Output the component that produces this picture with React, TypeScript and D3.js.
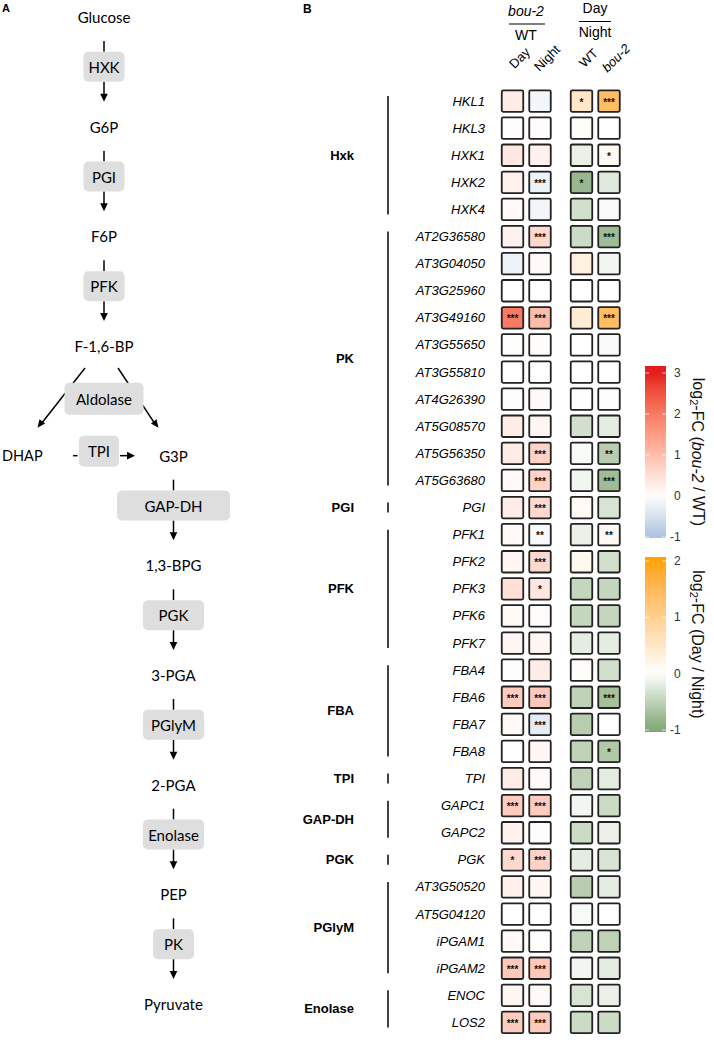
import * as d3 from "d3";

// ---- panel B data ----
const genes = [
  "HKL1", "HKL3", "HXK1", "HXK2", "HXK4",
  "AT2G36580", "AT3G04050", "AT3G25960", "AT3G49160", "AT3G55650",
  "AT3G55810", "AT4G26390", "AT5G08570", "AT5G56350", "AT5G63680",
  "PGI",
  "PFK1", "PFK2", "PFK3", "PFK6", "PFK7",
  "FBA4", "FBA6", "FBA7", "FBA8",
  "TPI",
  "GAPC1", "GAPC2",
  "PGK",
  "AT3G50520", "AT5G04120", "iPGAM1", "iPGAM2",
  "ENOC", "LOS2",
];
const families = ["Hxk", "PK", "PGI", "PFK", "FBA", "TPI", "GAP-DH", "PGK", "PGlyM", "Enolase"];
const familySizes = [5, 10, 1, 5, 4, 1, 2, 1, 4, 2];

// log2 FC bou-2 / WT
const fcDay = [0.3, 0.05, 0.35, 0.2, 0.1, 0.2, -0.2, 0, 2.0, 0.02, 0, 0.03, 0.3, 0.3, 0.1, 0.3, 0.1, 0.15, 0.5, 0.08, 0.15, 0.03, 0.8, 0.1, 0, 0.3, 0.8, 0.2, 0.6, 0.25, 0, 0.1, 0.85, 0.15, 0.8];
const fcNight = [-0.15, 0.05, 0.2, -0.22, -0.15, 0.6, 0.1, 0, 1.05, 0.02, 0, 0.08, 0.15, 0.7, 0.65, 0.6, -0.1, 0.6, 0.35, 0.05, 0.15, 0.3, 0.85, -0.3, 0.15, 0.1, 0.8, 0.03, 0.7, 0.15, 0, 0.02, 0.85, 0.08, 0.8];
// log2 FC Day / Night
const fcWT = [0.5, 0.05, -0.15, -0.8, -0.35, -0.4, 0.3, 0, 0.4, 0, 0, 0.03, -0.35, -0.05, -0.1, 0.1, -0.15, 0.15, -0.45, -0.45, -0.2, 0.05, -0.5, -0.55, -0.5, -0.5, -0.1, -0.4, -0.2, -0.55, -0.05, -0.5, -0.1, -0.3, -0.4];
const fcBou = [1.4, 0, 0.1, -0.25, -0.05, -0.75, -0.1, 0, 1.4, -0.05, 0, -0.03, -0.2, -0.55, -0.75, -0.3, 0.1, -0.35, -0.45, -0.45, -0.2, -0.35, -0.7, 0, -0.6, -0.2, -0.4, -0.15, -0.3, -0.2, 0, -0.5, -0.2, -0.15, -0.4];

const sigDay = ["", "", "", "", "", "", "", "", "***", "", "", "", "", "", "", "", "", "", "", "", "", "", "***", "", "", "", "***", "", "*", "", "", "", "***", "", "***"];
const sigNight = ["", "", "", "***", "", "***", "", "", "***", "", "", "", "", "***", "***", "***", "**", "***", "*", "", "", "", "***", "***", "", "", "***", "", "***", "", "", "", "***", "", "***"];
const sigWT = ["*", "", "", "*", "", "", "", "", "", "", "", "", "", "", "", "", "", "", "", "", "", "", "", "", "", "", "", "", "", "", "", "", "", "", ""];
const sigBou = ["***", "", "*", "", "", "***", "", "", "***", "", "", "", "", "**", "***", "", "**", "", "", "", "", "", "***", "", "*", "", "", "", "", "", "", "", "", "", ""];

const redTicks = [3, 2, 1, 0, -1];
const orangeTicks = [2, 1, 0, -1];

// ---- panel A data ----
const metabolites = ["Glucose", "G6P", "F6P", "F-1,6-BP", "G3P", "1,3-BPG", "3-PGA", "2-PGA", "PEP", "Pyruvate"];
const enzymes = ["HXK", "PGI", "PFK", "Aldolase", "GAP-DH", "PGK", "PGlyM", "Enolase", "PK"];
const enzymeWidths = [41, 41, 41, 79, 113, 61, 61, 61, 41];

const W = 714, H = 1040;
const FONT_B = "'Liberation Sans', Arial, sans-serif";
const FONT_A = "Lato, sans-serif";

export default function App() {
  // rows
  const y = d3.scaleBand().domain(genes).range([87.5, 87.5 + genes.length * 27.1]);
  const cy = (g: string) => (y(g) as number) + y.bandwidth() / 2;
  const xL = d3.scaleBand().domain(["Day", "Night"]).range([498.75, 553.75]);
  const xR = d3.scaleBand().domain(["WT", "bou-2"]).range([567.75, 622.75]);
  const cx = (s: d3.ScaleBand<string>, k: string) => (s(k) as number) + s.bandwidth() / 2;

  const red = d3.scaleLinear<string>().domain([-1, 0, 3]).range(["#abc2df", "#ffffff", "#e31a1c"]).interpolate(d3.interpolateLab);
  const orange = d3.scaleLinear<string>().domain([-1, 0, 2]).range(["#80a673", "#ffffff", "#ffa200"]).interpolate(d3.interpolateLab);

  const columns = [
    { key: "Day", scale: xL, vals: fcDay, sig: sigDay, color: red },
    { key: "Night", scale: xL, vals: fcNight, sig: sigNight, color: red },
    { key: "WT", scale: xR, vals: fcWT, sig: sigWT, color: orange },
    { key: "bou-2", scale: xR, vals: fcBou, sig: sigBou, color: orange },
  ];

  // family brackets
  let start = 0;
  const fam = families.map((f, i) => {
    const first = genes[start];
    const last = genes[start + familySizes[i] - 1];
    start += familySizes[i];
    return { name: f, y0: cy(first), y1: cy(last) };
  });

  const cell = 21.5;

  // legends
  const yRed = d3.scaleLinear().domain([-1, 3]).range([537, 373]);
  const yOr = d3.scaleLinear().domain([-1, 2]).range([730, 561]);
  const barX = 645, barW = 21;

  // pathway
  const py = d3.scaleLinear().domain([0, 9]).range([17, 1004]);
  const xTop = 104, xBot = 173.5;
  const colX = (i: number) => (i <= 3 ? xTop : xBot);

  const arrowHead = (x: number, yTip: number) =>
    `M${x - 3.8},${yTip - 8} L${x + 3.8},${yTip - 8} L${x},${yTip} Z`;

  const steps = enzymes.map((e, i) => {
    if (e === "Aldolase") return null;
    const y0 = py(i), y1 = py(i + 1);
    const x = i >= 4 ? xBot : xTop;
    const boxC = (y0 + y1) / 2 - 5;
    return { e, x, y0, y1, boxC, w: enzymeWidths[i] };
  });

  const aldoY = (py(3) + py(4)) / 2 - 2;

  return (
    <svg width={W} height={H} style={{ position: "absolute", left: 0, top: 0, background: "#fff" }}>
      {/* ------------ Panel A ------------ */}
      <text x={2} y={12} fontFamily={FONT_B} fontWeight="bold" fontSize={11}>A</text>
      {metabolites.map((m, i) => (
        <text key={m} x={colX(i)} y={py(i)} fontFamily={FONT_A} fontSize={15} textAnchor="middle" dominantBaseline="central">{m}</text>
      ))}
      <text x={2} y={py(4)} fontFamily={FONT_A} fontSize={14.5} textAnchor="start" dominantBaseline="central">DHAP</text>
      {steps.map((s) => s && (
        <g key={s.e}>
          <line x1={s.x} x2={s.x} y1={s.y0 + 24} y2={s.boxC - 15} stroke="#000" strokeWidth={1.5} />
          <line x1={s.x} x2={s.x} y1={s.boxC + 15} y2={s.y1 - 30} stroke="#000" strokeWidth={1.5} />
          <path d={arrowHead(s.x, s.y1 - 25)} fill="#000" />
          <rect x={s.x - s.w / 2} y={s.boxC - 15} width={s.w} height={30} rx={5} fill="#dedede" />
          <text x={s.x} y={s.boxC} fontFamily={FONT_A} fontSize={15} textAnchor="middle" dominantBaseline="central">{s.e}</text>
        </g>
      ))}
      {/* aldolase split */}
      <line x1={85} y1={py(3) + 22} x2={40.5} y2={py(4) - 31} stroke="#000" strokeWidth={1.5} />
      <path d="M0,0 L7,0 L3.5,8 Z" fill="#000" transform={`translate(37.5,${py(4) - 28}) rotate(37) translate(-3.5,-8)`} />
      <line x1={118} y1={py(3) + 22} x2={155.5} y2={py(4) - 31} stroke="#000" strokeWidth={1.5} />
      <path d="M0,0 L7,0 L3.5,8 Z" fill="#000" transform={`translate(158.5,${py(4) - 28}) rotate(-37) translate(-3.5,-8)`} />
      <rect x={xTop - 39.5} y={aldoY - 16} width={79} height={32} rx={5} fill="#dedede" />
      <text x={xTop} y={aldoY} fontFamily={FONT_A} fontSize={15} textAnchor="middle" dominantBaseline="central">Aldolase</text>
      {/* TPI */}
      <line x1={73} x2={77.5} y1={py(4)} y2={py(4)} stroke="#000" strokeWidth={1.5} />
      <line x1={120} x2={130} y1={py(4)} y2={py(4)} stroke="#000" strokeWidth={1.5} />
      <path d={`M${127},${py(4) - 3.8} L${135},${py(4)} L${127},${py(4) + 3.8} Z`} fill="#000" />
      <rect x={79} y={py(4) - 20} width={40} height={31} rx={5} fill="#dedede" />
      <text x={99} y={py(4) - 4.5} fontFamily={FONT_A} fontSize={15} textAnchor="middle" dominantBaseline="central">TPI</text>

      {/* ------------ Panel B ------------ */}
      <text x={303} y={13} fontFamily={FONT_B} fontWeight="bold" fontSize={12}>B</text>

      {/* headers */}
      <text x={526} y={16} fontFamily={FONT_B} fontSize={14} fontStyle="italic" textAnchor="middle">bou-2</text>
      <line x1={509} x2={545} y1={24} y2={24} stroke="#000" strokeWidth={1} />
      <text x={526} y={40} fontFamily={FONT_B} fontSize={14} textAnchor="middle">WT</text>
      <text x={595} y={13} fontFamily={FONT_B} fontSize={14} textAnchor="middle">Day</text>
      <line x1={579} x2={611} y1={21.5} y2={21.5} stroke="#000" strokeWidth={1} />
      <text x={595} y={37} fontFamily={FONT_B} fontSize={14} textAnchor="middle">Night</text>
      {columns.map((c) => (
        <text key={c.key} transform={`translate(${cx(c.scale, c.key) + 7},${58}) rotate(-45)`}
          fontFamily={FONT_B} fontSize={13} textAnchor="middle" dominantBaseline="central"
          fontStyle={c.key === "bou-2" ? "italic" : "normal"}>{c.key}</text>
      ))}

      {/* families */}
      {fam.map((f) => (
        <g key={f.name}>
          <line x1={388} x2={388} y1={f.y0 - 5} y2={f.y1 + 5} stroke="#000" strokeWidth={1.5} />
          <text x={354} y={(f.y0 + f.y1) / 2} fontFamily={FONT_B} fontSize={13} fontWeight="bold" textAnchor="end" dominantBaseline="central">{f.name}</text>
        </g>
      ))}

      {/* gene labels */}
      {genes.map((g) => (
        <text key={g} x={485} y={cy(g)} fontFamily={FONT_B} fontSize={13} fontStyle="italic" textAnchor="end" dominantBaseline="central">{g}</text>
      ))}

      {/* cells */}
      {columns.map((c) => (
        <g key={c.key}>
          {genes.map((g, i) => {
            const x = cx(c.scale, c.key);
            const yy = cy(g);
            return (
              <g key={g}>
                <rect x={x - cell / 2} y={yy - cell / 2} width={cell} height={cell} rx={1.5}
                  fill={c.color(c.vals[i])} stroke="#222" strokeWidth={1.8} />
                {c.sig[i] && (
                  <text x={x} y={yy + 4.5} fontFamily={FONT_B} fontSize={10} fontWeight="bold" textAnchor="middle" fill="#111">{c.sig[i]}</text>
                )}
              </g>
            );
          })}
        </g>
      ))}

      {/* legend gradients */}
      <defs>
        <linearGradient id="gRed" x1="0" x2="0" y1="0" y2="1">
          {d3.range(0, 1.0001, 0.05).map((t) => {
            const v = yRed.invert(366 + t * (538 - 366));
            return <stop key={t} offset={t} stopColor={red(Math.max(-1, Math.min(3, v)))} />;
          })}
        </linearGradient>
        <linearGradient id="gOr" x1="0" x2="0" y1="0" y2="1">
          {d3.range(0, 1.0001, 0.05).map((t) => {
            const v = yOr.invert(557 + t * (732 - 557));
            return <stop key={t} offset={t} stopColor={orange(Math.max(-1, Math.min(2, v)))} />;
          })}
        </linearGradient>
      </defs>

      {/* legend 1 */}
      <rect x={barX} y={366} width={barW} height={538 - 366} fill="url(#gRed)" />
      {redTicks.map((t) => (
        <g key={t}>
          <line x1={barX} x2={barX + 4} y1={yRed(t)} y2={yRed(t)} stroke="#fff" strokeOpacity={0.7} />
          <line x1={barX + barW - 4} x2={barX + barW} y1={yRed(t)} y2={yRed(t)} stroke="#fff" strokeOpacity={0.7} />
          <text x={t < 0 ? 670 : 674} y={yRed(t)} fontFamily={FONT_B} fontSize={12} fill="#333" dominantBaseline="central">{t}</text>
        </g>
      ))}
      <text transform={`translate(698,${452}) rotate(90)`} fontFamily={FONT_B} fontSize={16} fill="#111" textAnchor="middle" dominantBaseline="central">
        log<tspan fontSize={11} dy={4}>2</tspan><tspan dy={-4}>-FC (</tspan><tspan fontStyle="italic">bou-2</tspan> / WT)
      </text>

      {/* legend 2 */}
      <rect x={barX} y={557} width={barW} height={732 - 557} fill="url(#gOr)" />
      {orangeTicks.map((t) => (
        <g key={t}>
          <line x1={barX} x2={barX + 4} y1={yOr(t)} y2={yOr(t)} stroke="#fff" strokeOpacity={0.7} />
          <line x1={barX + barW - 4} x2={barX + barW} y1={yOr(t)} y2={yOr(t)} stroke="#fff" strokeOpacity={0.7} />
          <text x={t < 0 ? 670 : 674} y={yOr(t)} fontFamily={FONT_B} fontSize={12} fill="#333" dominantBaseline="central">{t}</text>
        </g>
      ))}
      <text transform={`translate(698,${644.5}) rotate(90)`} fontFamily={FONT_B} fontSize={16} fill="#111" textAnchor="middle" dominantBaseline="central">
        log<tspan fontSize={11} dy={4}>2</tspan><tspan dy={-4}>-FC (Day / Night)</tspan>
      </text>
    </svg>
  );
}
